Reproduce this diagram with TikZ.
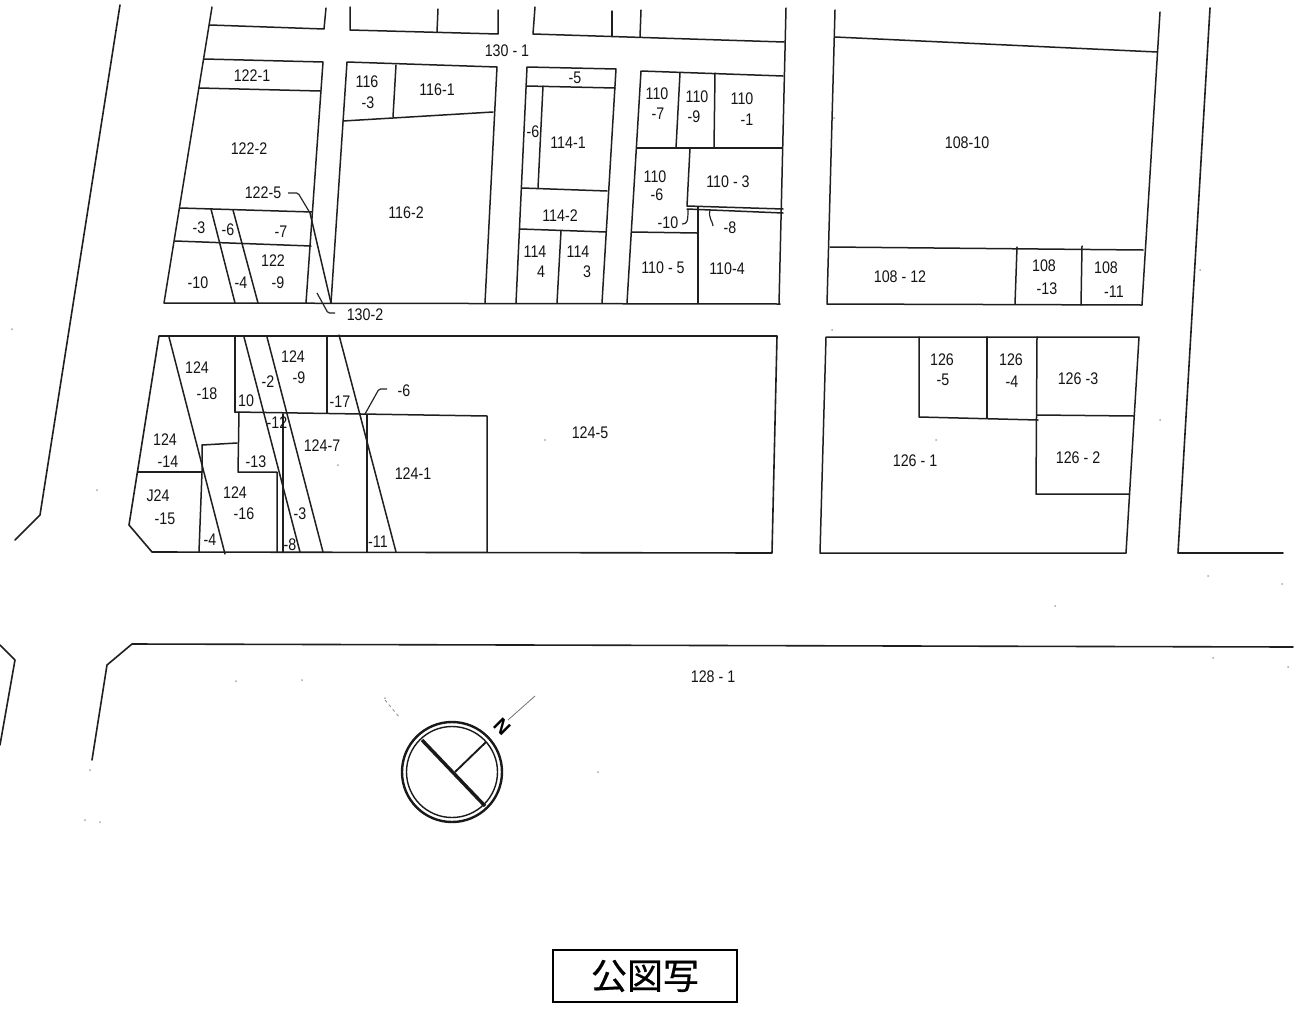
\documentclass[tikz,border=0pt]{standalone}
\usepackage{fontspec}
\setmainfont{Liberation Sans}
\newfontfamily\cjkfont[FakeBold=0.5]{Noto Sans CJK JP}
\newcounter{lblno}
\newcommand{\lbl}[3]{\stepcounter{lblno}\node[lab] (lbl\arabic{lblno}) at (#1,#2) {#3};}
\tikzset{
  lab/.style={inner sep=0pt,font=\fontsize{15}{17}\selectfont,text=black!92,xscale=0.95,yscale=1.12},
  lot/.style={draw=black!88,line width=1.5pt,line cap=round,line join=round},
  road/.style={draw=black!88,line width=1.6pt,line cap=round,line join=round},
  thick lot/.style={draw=black!88,line width=2pt,line cap=round},
  leader/.style={draw=black!85,line width=1.2pt,rounded corners=1.5pt},
  speck/.style={fill=black!35,draw=none},
}
\begin{document}
\begin{tikzpicture}[x=1pt,y=-1pt]
\useasboundingbox (0,0) rectangle (1303,1012);
\fill[white] (0,0) rectangle (1303,1012);
% roads
\draw[road] (120,5) -- (40,515) -- (15,540);
\draw[road] (0,645) -- (15,660) -- (0,745);
\draw[road] (92,760) -- (107,665) -- (132,644) -- (1293,647);
\draw[road] (1210,8) -- (1178,553) -- (1283,553);
% block 122
\draw[lot] (212,7) -- (164,303) -- (780,304);
\draw[lot] (210,25) -- (324,29) -- (326,8);
\draw[lot] (204,59) -- (323,62) -- (306,303);
\draw[lot] (199,88) -- (320,91);
\draw[lot] (180,208) -- (312,212);
\draw[lot] (175,241) -- (311,246);
\draw[lot] (211,209) -- (235,303);
\draw[lot] (233,210) -- (258,303);
\draw[lot] (310,213) -- (331,303);
\draw[leader] (288,193) -- (298,193) -- (310,213);
\draw[leader] (317,293) -- (328,313) -- (335,313);
% block 116
\draw[lot] (350,7) -- (350,30) -- (498,34) -- (498,10);
\draw[lot] (438,9) -- (437,32);
\draw[lot] (331,303) -- (347,62) -- (497,67) -- (485,303);
\draw[lot] (396,65) -- (393,117);
\draw[lot] (343,121) -- (493,112);
% block 114
\draw[lot] (535,7) -- (533,34) -- (784,42);
\draw[lot] (612,11) -- (612,36);
\draw[lot] (641,10) -- (640,37);
\draw[lot] (516,303) -- (527,67) -- (616,69) -- (602,303);
\draw[lot] (527,86) -- (615,88);
\draw[lot] (543,86) -- (538,188);
\draw[lot] (522,188) -- (607,191);
\draw[lot] (520,229) -- (606,232);
\draw[lot] (561,231) -- (557,303);
% block 110
\draw[lot] (786,8) -- (779,304);
\draw[lot] (627,303) -- (641,71) -- (783,76);
\draw[lot] (637,148) -- (782,148);
\draw[lot] (680,73) -- (676,148);
\draw[lot] (715,73) -- (714,148);
\draw[lot] (690,148) -- (687,206) -- (783,209);
\draw[lot] (687,209) -- (783,213);
\draw[lot] (632,232) -- (697,233);
\draw[thick lot] (698,207) -- (698,303);
\draw[leader] (688,210) .. controls (688,222) and (687,224) .. (682,224);
\draw[leader] (710,210) .. controls (708,218) and (713,222) .. (713,226);
% block 108
\draw[lot] (835,10) -- (827,304) -- (1142,305) -- (1160,12);
\draw[lot] (835,37) -- (1157,52);
\draw[lot] (830,247) -- (1143,250);
\draw[lot] (1017,247) -- (1015,304);
\draw[lot] (1082,246) -- (1081,305);
% block 126
\draw[lot] (826,337) -- (1139,337) -- (1126,553) -- (820,553) -- cycle;
\draw[lot] (919,337) -- (919,417) -- (1038,420);
\draw[lot] (987,337) -- (987,418);
\draw[lot] (1037,337) -- (1036,494) -- (1129,494);
\draw[lot] (1037,415) -- (1134,416);
% block 124
\draw[road] (777,336) -- (159,336) -- (129,525) -- (152,552) -- (772,553) -- cycle;
\draw[lot] (169,337) -- (225,554);
\draw[thick lot] (235,337) -- (235,412);
\draw[lot] (235,412) -- (487,416) -- (487,552);
\draw[lot] (244,337) -- (300,552);
\draw[lot] (267,337) -- (323,552);
\draw[lot] (327,337) -- (327,413);
\draw[lot] (339,335) -- (396,552);
\draw[leader] (387,389) -- (379,389) -- (365,414);
\draw[thick lot] (367,415) -- (367,552);
\draw[lot] (239,412) -- (238,472) -- (277,472) -- (277,552);
\draw[lot] (202,445) -- (237,443);
\draw[lot] (202,445) -- (202,472) -- (199,552);
\draw[lot] (138,472) -- (202,472);
\draw[thick lot] (283,414) -- (283,552);
% compass
\draw[line width=2.4pt,draw=black!90] (452,772) circle (50);
\draw[line width=1.4pt,draw=black!90] (452,772) circle (45.5);
\draw[line width=3.4pt,draw=black!90] (422,740) -- (485,806);
\draw[line width=1.9pt,draw=black!90] (455,772) -- (486,742);
\draw[line width=.8pt,draw=black!55] (508,720) -- (535,696);
\draw[line width=.8pt,draw=black!45,dashed] (385,700) -- (400,718);
\node[inner sep=0pt,font=\fontsize{20}{22}\selectfont\bfseries,rotate=-45] (north) at (502,727) {N};
% specks
\foreach \x/\y in {12/329,97/490,90/770,85/820,100/822,302/680,236/681,598/772,1055/606,1208/576,1282/584,1213/658,1288/667,834/118,936/440,545/440,338/465,832/330,1160/420,1200/270,385/698}{
  \fill[speck] (\x,\y) circle (1);
}
% labels
\lbl{507}{51}{130 - 1}
\lbl{252}{76}{122-1}\lbl{249}{149}{122-2}\lbl{263}{193}{122-5}
\lbl{199}{228}{-3}\lbl{228}{230}{-6}\lbl{281}{232}{-7}
\lbl{273}{261}{122}\lbl{278}{283}{-9}\lbl{198}{283}{-10}\lbl{241}{283}{-4}
\lbl{365}{315}{130-2}
\lbl{367}{82}{116}\lbl{368}{103}{-3}\lbl{437}{90}{116-1}\lbl{406}{213}{116-2}
\lbl{575}{78}{-5}\lbl{533}{132}{-6}\lbl{568}{143}{114-1}\lbl{560}{216}{114-2}
\lbl{535}{252}{114}\lbl{541}{272}{4}\lbl{578}{252}{114}\lbl{587}{272}{3}
\lbl{657}{94}{110}\lbl{658}{114}{-7}\lbl{697}{97}{110}\lbl{694}{117}{-9}
\lbl{742}{99}{110}\lbl{747}{120}{-1}\lbl{655}{177}{110}\lbl{657}{195}{-6}
\lbl{728}{182}{110 - 3}\lbl{668}{223}{-10}\lbl{730}{228}{-8}
\lbl{663}{268}{110 - 5}\lbl{727}{269}{110-4}
\lbl{967}{143}{108-10}\lbl{900}{277}{108 - 12}\lbl{1044}{266}{108}\lbl{1047}{289}{-13}
\lbl{1106}{268}{108}\lbl{1114}{292}{-11}
\lbl{942}{360}{126}\lbl{943}{380}{-5}\lbl{1011}{360}{126}\lbl{1012}{382}{-4}
\lbl{1078}{379}{126 -3}\lbl{1078}{458}{126 - 2}\lbl{915}{461}{126 - 1}
\lbl{197}{368}{124}\lbl{207}{394}{-18}\lbl{165}{440}{124}\lbl{168}{462}{-14}
\lbl{158}{496}{J24}\lbl{165}{519}{-15}\lbl{235}{493}{124}\lbl{244}{514}{-16}
\lbl{210}{540}{-4}\lbl{256}{462}{-13}\lbl{246}{401}{10}\lbl{268}{382}{-2}
\lbl{293}{357}{124}\lbl{299}{378}{-9}\lbl{277}{423}{-12}\lbl{322}{446}{124-7}
\lbl{340}{402}{-17}\lbl{413}{474}{124-1}\lbl{300}{514}{-3}\lbl{290}{545}{-8}
\lbl{378}{542}{-11}\lbl{404}{391}{-6}\lbl{590}{433}{124-5}
\lbl{713}{677}{128 - 1}
% title
\node[draw=black,line width=1.8pt,minimum width=184pt,minimum height=52pt,inner sep=0pt,font=\cjkfont\fontsize{36}{39}\selectfont] (title) at (645,976) {公図写};
\end{tikzpicture}
\end{document}
